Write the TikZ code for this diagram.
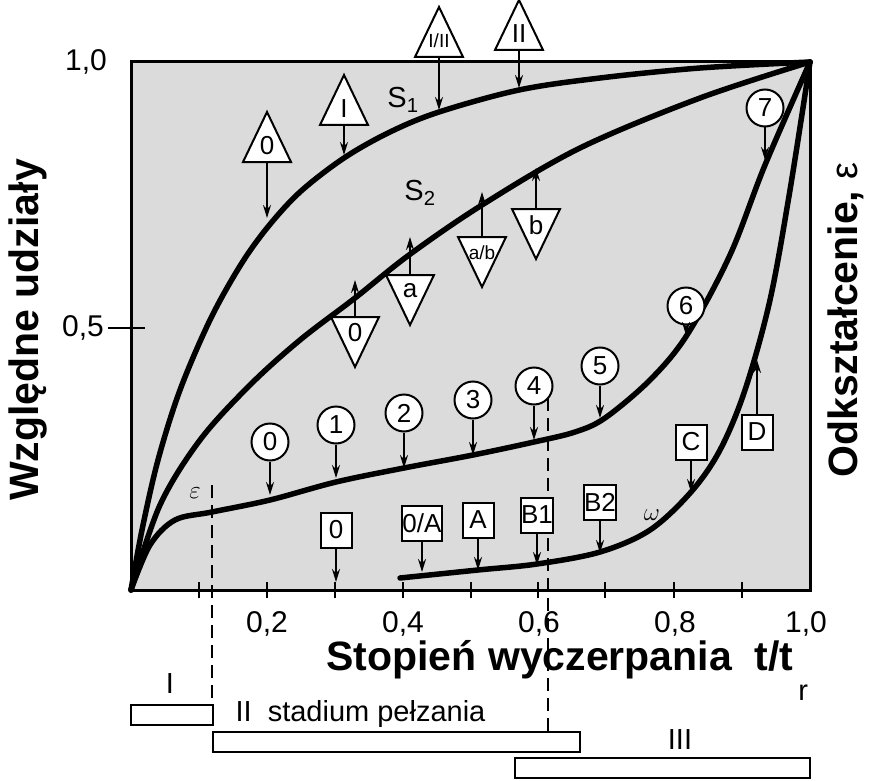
\documentclass[tikz,border=0pt]{standalone}
\usepackage{fontspec}
\setmainfont{Liberation Sans}
\usetikzlibrary{arrows.meta}
\tikzset{
 curve/.style={line width=5.5pt,line cap=round},
 arr/.style={line width=1.8pt,-{Stealth[length=13pt,width=8pt]}},
 mk/.style={draw,line width=2pt,fill=white},
 lab/.style={font=\fontsize{26}{26}\selectfont,inner sep=0pt},
 tick/.style={line width=2pt},
 big/.style={font=\fontsize{41}{41}\selectfont\bfseries},
 num/.style={font=\fontsize{30}{30}\selectfont},
 sm/.style={font=\fontsize{29}{29}\selectfont},
}
% triangle apex up: name, x, base y, tip y, text
\newcommand\mytup[5]{%
 \draw[mk] (#2-24,#3) -- (#2,#3-50) -- (#2+24,#3) -- cycle;
 \node[lab] (#1) at (#2,#3-16) {#5};
 \coordinate (#1t) at (#2,#4);
 \draw[arr] (#2,#3) -- (#1t);}
% triangle apex down: name, x, top y, tip y, text
\newcommand\mytdn[5]{%
 \draw[mk] (#2-24,#3) -- (#2,#3+50) -- (#2+24,#3) -- cycle;
 \node[lab] (#1) at (#2,#3+16) {#5};
 \coordinate (#1t) at (#2,#4);
 \draw[arr] (#2,#3) -- (#1t);}
% circle: name, x, centre y, tip y, text
\newcommand\mycirc[5]{%
 \node[mk,circle,minimum size=37pt,inner sep=0pt,lab] (#1) at (#2,#3) {#5};
 \coordinate (#1t) at (#2,#4);
 \draw[arr] (#1.south) -- (#1t);}
% square: name, x, centre y, tip y, text
\newcommand\mysq[5]{%
 \node[mk,minimum height=35pt,minimum width=31pt,inner sep=2pt,lab] (#1) at (#2,#3) {#5};
 \coordinate (#1t) at (#2,#4);
 \draw[arr] (#1.south) -- (#1t);}
\begin{document}
\begin{tikzpicture}[x=1pt,y=-1pt]
\useasboundingbox (0,0) rectangle (872,781);
\draw[fill=black!14,line width=3pt] (131,62) rectangle (810,590);
% ticks
\foreach \x in {199,267,335,403,471,538,605,674,742}
  \draw[tick] (\x,582) -- (\x,598);
\draw[tick] (108,328) -- (145,328);
\node[num] at (86,62) {1,0};
\node[num] at (83,328) {0,5};
\foreach \x/\t in {267/{0,2},403/{0,4},539/{0,6},675/{0,8},806/{1,0}}
  \node[num] at (\x,624) {\t};
% dashed lines
\draw[line width=2pt,dash pattern=on 13pt off 7pt] (212,485) -- (212,722);
\draw[line width=2pt,dash pattern=on 13pt off 7pt] (548,398) -- (548,746);
% curves
\draw[curve] plot[smooth,tension=0.55] coordinates {(131,590) (142,530) (158,460) (180,390) (210,320) (240,266) (267,228) (300,192) (344,158) (390,132) (439,112) (519,90) (600,78) (700,68) (810,62)};
\draw[curve] plot[smooth,tension=0.55] coordinates {(131,590) (160,505) (200,440) (250,385) (300,340) (355,298) (409,255) (482,205) (580,148) (700,98) (810,62)};
\draw[curve] plot[smooth,tension=0.55] coordinates {(131,590) (150,545) (175,520) (212,512) (270,500) (336,482) (404,468) (473,455) (534,442) (575,432) (605,418) (650,380) (687,335) (730,255) (765,165) (810,62)};
\draw[curve] plot[smooth,tension=0.55] coordinates {(400,578) (478,570) (537,564) (600,552) (650,530) (691,492) (720,450) (745,390) (770,300) (790,190) (810,62)};
% curve labels
\node[sm] (s1) at (403,100) {S\textsubscript{1}};
\node[sm] (s2) at (420,193) {S\textsubscript{2}};
\node[sm] (eps) at (195,493) {$\varepsilon$};
\node[sm] (om) at (652,515) {$\omega$};
% triangles
\mytup{tA}{267}{162}{218}{0}
\mytup{tB}{344}{125}{155}{I}
\mytup{tC}{439}{57}{110}{\fontsize{19}{19}\selectfont I/II}
\mytup{tD}{519}{50}{88}{II}
\mytdn{dA}{355}{317}{280}{0}
\mytdn{dB}{410}{275}{237}{a}
\mytdn{dC}{482}{237}{192}{\fontsize{19}{19}\selectfont a/b}
\mytdn{dD}{536}{209}{168}{b}
% circles
\mycirc{c0}{270}{442}{495}{0}
\mycirc{c1}{336}{425}{478}{1}
\mycirc{c2}{404}{413}{468}{2}
\mycirc{c3}{473}{400}{455}{3}
\mycirc{c4}{534}{386}{440}{4}
\mycirc{c5}{600}{366}{418}{5}
\mycirc{c6}{686}{306}{335}{6}
\mycirc{c7}{765}{108}{160}{7}
% squares
\mysq{q0}{336}{530}{582}{0}
\mysq{q1}{422}{523}{572}{0/A}
\mysq{q2}{478}{520}{570}{A}
\mysq{q3}{537}{515}{565}{B1}
\mysq{q4}{600}{502}{553}{B2}
\mysq{q5}{691}{442}{492}{C}
\node[mk,minimum height=35pt,minimum width=31pt,inner sep=2pt,lab] (q6) at (757,432) {D};
\coordinate (q6t) at (757,360);
\draw[arr] (q6.north) -- (q6t);
% axis titles
\node[big,rotate=90] (yl) at (28,330) {Względne udziały};
\node[big,rotate=90] (yr) at (846,320) {Odkształcenie, \normalfont\fontsize{38}{38}\selectfont ε};
\node[big] (xl) at (560,660) {Stopień wyczerpania\ \ t/t};
\node[sm,anchor=north west,inner sep=0pt] (xr) at ([xshift=1pt,yshift=-2pt]xl.south east) {r};
% stages
\draw[line width=2pt,fill=white] (131,705) rectangle (213,725);
\draw[line width=2pt,fill=white] (213,732) rectangle (580,752);
\draw[line width=2pt,fill=white] (515,758) rectangle (810,778);
\node[sm] (st1) at (170,684) {I};
\node[sm,anchor=west] (st2) at (232,714) {II\ \ stadium pełzania};
\node[sm] (st3) at (680,740) {III};
\end{tikzpicture}
\end{document}
